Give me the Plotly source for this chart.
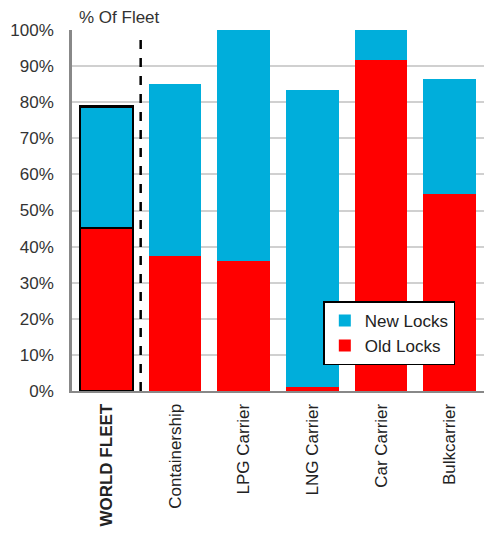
import plotly.graph_objects as go

categories = ["WORLD FLEET", "Containership", "LPG Carrier", "LNG Carrier", "Car Carrier", "Bulkcarrier"]
tick_labels = ["<b>WORLD FLEET</b>", "Containership", "LPG Carrier", "LNG Carrier", "Car Carrier", "Bulkcarrier"]
old_locks = [45.2, 37.4, 36.0, 1.0, 91.7, 54.6]
new_locks = [33.6, 47.6, 64.0, 82.4, 8.3, 31.8]

font_family = "Liberation Sans, Arial, Helvetica, sans-serif"
RED = "#FF0000"
BLUE = "#00AEDB"
BW = 0.77

fig = go.Figure()
# highlighted world fleet bar (outlined), not in legend
fig.add_trace(go.Bar(x=categories[:1], y=old_locks[:1], name="Old Locks", showlegend=False,
                     marker=dict(color=RED, line=dict(color="black", width=2.5)), width=BW))
fig.add_trace(go.Bar(x=categories[:1], y=new_locks[:1], name="New Locks", showlegend=False,
                     marker=dict(color=BLUE, line=dict(color="black", width=2.5)), width=BW))
# ship types
fig.add_trace(go.Bar(x=categories[1:], y=old_locks[1:], name="Old Locks",
                     marker=dict(color=RED, line=dict(width=0)), width=BW))
fig.add_trace(go.Bar(x=categories[1:], y=new_locks[1:], name="New Locks",
                     marker=dict(color=BLUE, line=dict(width=0)), width=BW))

fig.add_shape(type="line", xref="x", yref="y", x0=0.5, x1=0.5, y0=0, y1=98,
              line=dict(color="black", width=2.5, dash="dash"))

fig.add_annotation(text="% Of Fleet", xref="paper", yref="paper", x=0.012, y=1.0,
                   xanchor="left", yanchor="bottom", yshift=1, showarrow=False,
                   font=dict(size=17, color="#333333", family=font_family))

fig.update_layout(
    barmode="stack",
    width=484, height=534,
    margin=dict(l=72, r=0, t=30, b=143),
    plot_bgcolor="white", paper_bgcolor="white",
    font=dict(family=font_family, size=17, color="#333333"),
    showlegend=True,
    legend=dict(
        x=0.61, y=0.248, xanchor="left", yanchor="top",
        bordercolor="black", borderwidth=1.5, bgcolor="white",
        traceorder="reversed", font=dict(size=17, color="#222222"),
        itemwidth=30, tracegroupgap=0,
    ),
)
fig.update_xaxes(
    tickmode="array", tickvals=categories, ticktext=tick_labels,
    tickangle=-90, showline=True, linecolor="#888888", linewidth=2,
    ticks="", range=[-0.5, 5.5], showgrid=False, ticklabelstandoff=4,
    tickfont=dict(size=17, color="#222222"),
)
fig.update_yaxes(
    range=[0, 100], dtick=10, ticksuffix="%", showgrid=True,
    gridcolor="#D0D0D0", gridwidth=1.5, showline=True, linecolor="#888888",
    linewidth=2.5, ticks="", tickfont=dict(size=17, color="#333333"),
    zeroline=False, ticklabelstandoff=12,
)

fig.write_html("out.html")
